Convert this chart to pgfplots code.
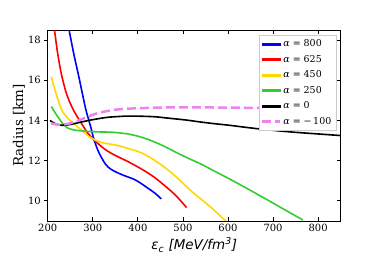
\documentclass[border=0pt]{standalone}
\usepackage{fontspec}
\setmainfont{DejaVu Serif}
\newfontfamily\dvsans{DejaVu Sans}
\usepackage{pgfplots}
\pgfplotsset{compat=1.18}
\definecolor{cblue}{RGB}{0,0,255}
\definecolor{cred}{RGB}{255,0,0}
\definecolor{cgold}{RGB}{255,215,0}
\definecolor{cgreen}{RGB}{50,205,50}
\definecolor{cviolet}{RGB}{238,130,238}
\definecolor{lgframe}{RGB}{204,204,204}
\begin{document}
\begin{tikzpicture}
\path[use as bounding box] (-47.7bp,-32bp) rectangle (331.3bp,221bp);
\begin{axis}[
  scale only axis, width=293bp, height=191bp,
  xmin=200, xmax=850, ymin=9, ymax=18.5,
  xtick={200,300,400,500,600,700,800}, ytick={10,12,14,16,18},
  xtick pos=both, xtick align=inside,
  ytick pos=left, ytick align=outside,
  major tick length=3.5bp,
  tick style={black, line width=0.8bp},
  axis line style={line width=0.8bp},
  /pgf/number format/assume math mode=true,
  ticklabel style={font=\fontsize{10}{12}\selectfont},
  xlabel={{\dvsans\itshape ε\textsubscript{c} [MeV/fm\textsuperscript{3}]}},
  ylabel={Radius [km]},
  label style={font=\fontsize{13.5}{16}\selectfont},
  x label style={at={(axis description cs:0.5,-0.1257)}, anchor=center},
  y label style={at={(axis description cs:-0.098,0.5)}, anchor=center},
  legend style={at={(axis description cs:1,1)}, anchor=north east,
    xshift=-4.7bp, yshift=-5bp, draw=lgframe, fill=white,
    font=\fontsize{9.5}{11}\selectfont, row sep=3bp, inner sep=2.5bp},
  legend cell align=left,
  clip=true,
]
\addplot[draw=cblue, line width=1.6bp, smooth, forget plot] coordinates {
(244,18.9) (247,18.55) (258,17.3) (269.3,16.15) (284,14.6) (291.4,14.0) (297,13.55) (302.5,13.06) (313.6,12.4) (328.4,11.82) (340,11.58) (354,11.41) (372,11.24) (391,11.08) (405,10.9) (420.5,10.66) (437,10.4) (452,10.1)};
\addplot[draw=cred, line width=1.6bp, smooth, forget plot] coordinates {
(212,18.8) (215,18.5) (222,17.35) (230,16.35) (240,15.45) (250,14.85) (260,14.4) (275,13.85) (288,13.4) (300,13.1) (310,12.88) (325,12.6) (340,12.38) (360,12.15) (376,11.98) (395,11.75) (413,11.52) (435,11.2) (460,10.75) (485,10.25) (508,9.67)};
\addplot[draw=cgold, line width=1.6bp, smooth, forget plot] coordinates {
(208,16.18) (215,15.6) (222,15.1) (232,14.49) (245,14.1) (265.5,13.7) (280,13.42) (295,13.15) (310,12.98) (324.6,12.88) (345,12.8) (360,12.73) (383.7,12.57) (405,12.42) (430,12.12) (457.5,11.7) (478,11.33) (500,10.88) (522,10.42) (545,10.0) (566.6,9.59) (595,9.0)};
\addplot[draw=cgreen, line width=1.6bp, smooth, forget plot] coordinates {
(208,14.69) (214,14.47) (225,14.1) (235,13.8) (243,13.64) (260,13.52) (288,13.46) (315,13.43) (339.5,13.42) (360,13.38) (380,13.32) (398,13.23) (420,13.08) (440,12.9) (460,12.7) (480,12.47) (508,12.16) (540,11.83) (575,11.42) (611,11.0) (650,10.52) (685,10.08) (725,9.57) (766,9.05)};
\addplot[draw=black, line width=1.6bp, smooth, forget plot] coordinates {
(205,14.0) (215,13.86) (225,13.78) (235,13.76) (250,13.8) (270,13.9) (295,14.02) (330,14.15) (360,14.2) (384,14.22) (434,14.19) (470,14.11) (507.7,14.02) (537,13.93) (570,13.84) (603.6,13.76) (650,13.63) (700,13.51) (750,13.41) (800,13.33) (850,13.25)};
\addplot[draw=cviolet, line width=2.5bp, dash pattern=on 9bp off 4bp, smooth, forget plot] coordinates {
(208,13.86) (220,13.8) (235,13.8) (250,13.86) (265.5,13.97) (285,14.15) (310,14.36) (340,14.5) (360,14.56) (390,14.6) (463,14.65) (530,14.65) (600,14.64) (700,14.62) (760,14.6)};
\addlegendimage{legend image code/.code={\fill[cblue] (0bp,-0.8bp) rectangle (17.7bp,0.8bp);}}
\addlegendentry{\textit{α} = 800}
\addlegendimage{legend image code/.code={\fill[cred] (0bp,-0.8bp) rectangle (17.7bp,0.8bp);}}
\addlegendentry{\textit{α} = 625}
\addlegendimage{legend image code/.code={\fill[cgold] (0bp,-0.8bp) rectangle (17.7bp,0.8bp);}}
\addlegendentry{\textit{α} = 450}
\addlegendimage{legend image code/.code={\fill[cgreen] (0bp,-0.8bp) rectangle (17.7bp,0.8bp);}}
\addlegendentry{\textit{α} = 250}
\addlegendimage{legend image code/.code={\fill[black] (0bp,-0.8bp) rectangle (17.7bp,0.8bp);}}
\addlegendentry{\textit{α} = 0}
\addlegendimage{legend image code/.code={\draw[cviolet, line width=2.5bp, dash pattern=on 9bp off 4bp] (0bp,0bp) -- (17.7bp,0bp);}}
\addlegendentry{\textit{α} = −\,100}
\end{axis}
\begin{axis}[
  scale only axis, width=293bp, height=191bp,
  xmin=200, xmax=850, ymin=9, ymax=18.5,
  xtick=\empty, ytick={10,12,14,16,18}, yticklabels={},
  ytick pos=right, ytick align=inside,
  major tick length=3.5bp,
  tick style={black, line width=0.8bp},
  axis line style={draw=none},
]
\end{axis}
\end{tikzpicture}
\end{document}
